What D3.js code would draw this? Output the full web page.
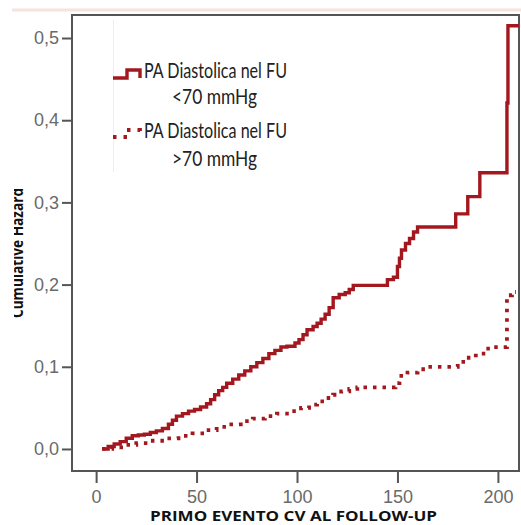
<!DOCTYPE html>
<html>
<head>
<meta charset="utf-8">
<script src="https://cdn.jsdelivr.net/npm/d3@7"></script>
<style>
  html, body { margin: 0; padding: 0; background: #fff; }
  svg { display: block; }
</style>
</head>
<body>
<svg id="chart" width="521" height="525"></svg>
<script>
// ---- data ----
const xTicks = [0, 50, 100, 150, 200];
const yTicks = [0, 0.1, 0.2, 0.3, 0.4, 0.5];
const seriesNames = ["PA Diastolica nel FU|<70 mmHg", "PA Diastolica nel FU|>70 mmHg"];
const xTitle = "PRIMO EVENTO CV AL FOLLOW-UP";
const yTitle = "Cumulative Hazard";

// <70 mmHg : step curve (time, cumulative hazard)
const lowTime = [3,6,9,12,15,18,21,24,27,30,33,36,38,40,43,46,49,52,55,57,59,61,63,65,68,71,74,77,80,83,86,89,92,95,99,101,103,105,108,110,112,114,116,118,121,124,126,128,145,148,150,151,152,154,156,158,160,179,185,191,204.5,205,210.5];
const lowHaz  = [0,0.003,0.006,0.009,0.013,0.016,0.017,0.018,0.020,0.022,0.025,0.030,0.035,0.040,0.043,0.046,0.048,0.051,0.055,0.060,0.066,0.071,0.075,0.080,0.085,0.090,0.095,0.100,0.105,0.110,0.116,0.120,0.124,0.125,0.129,0.133,0.139,0.145,0.149,0.153,0.158,0.164,0.172,0.184,0.188,0.190,0.194,0.199,0.206,0.209,0.222,0.232,0.242,0.250,0.256,0.264,0.270,0.286,0.307,0.336,0.421,0.515,0.515];

// >70 mmHg : step curve (time, cumulative hazard)
const highTime = [3,8,14,20,27,34,41,48,54,60,66,72,78,84,90,96,102,106,110,114,118,122,126,130,149,151,155,160,165,180,184,189,194,197,204.5,207,209];
const highHaz  = [0,0.002,0.005,0.007,0.010,0.013,0.016,0.019,0.023,0.027,0.030,0.034,0.037,0.040,0.043,0.046,0.050,0.054,0.058,0.062,0.066,0.070,0.073,0.075,0.080,0.089,0.093,0.097,0.100,0.106,0.111,0.116,0.122,0.124,0.187,0.191,0.191];

// ---- drawing ----
const svg = d3.select("#chart");
const red = "#a3181f";
const L = 72, R = 519, T = 15, B = 471;

const x = d3.scaleLinear().domain([-12, 210.5]).range([L, R]);
const y = d3.scaleLinear().domain([-0.0268, 0.528]).range([B, T]);

// faint decorations of the scanned figure
svg.append("line").attr("x1", 12).attr("x2", 521).attr("y1", 10).attr("y2", 10)
  .attr("stroke", "#f6e3df").attr("stroke-width", 3);
svg.append("line").attr("x1", 113.5).attr("x2", 113.5).attr("y1", 20).attr("y2", 172)
  .attr("stroke", "#eeeeee").attr("stroke-width", 1);

// axes
const fmt = v => d3.format(".1f")(v).replace(".", ",");
const yAxis = svg.append("g").attr("transform", `translate(${L},0)`)
  .call(d3.axisLeft(y).tickValues(yTicks).tickFormat(fmt).tickSize(10).tickSizeOuter(0).tickPadding(3));
const xAxis = svg.append("g").attr("transform", `translate(0,${B})`)
  .call(d3.axisBottom(x).tickValues(xTicks).tickFormat(d3.format("d")).tickSize(12).tickSizeOuter(0).tickPadding(7));
[yAxis, xAxis].forEach(g => {
  g.select(".domain").remove();
  g.selectAll(".tick line").attr("stroke", "#555").attr("stroke-width", 2);
  g.selectAll(".tick text").attr("fill", "#6a6a6a")
    .style("font-family", "'Liberation Sans', Arial, sans-serif").style("font-size", "18px");
});

// frame
svg.append("rect").attr("x", L).attr("y", T).attr("width", R - L).attr("height", B - T)
  .attr("fill", "none").attr("stroke", "#555").attr("stroke-width", 2);

// curves
const line = d3.line().x(d => x(d[0])).y(d => y(d[1])).curve(d3.curveStepAfter);
const lowData = lowTime.map((t, i) => [t, lowHaz[i]]);
const highData = highTime.map((t, i) => [t, highHaz[i]]);

svg.append("path").datum(highData).attr("d", line)
  .attr("fill", "none").attr("stroke", red).attr("stroke-width", 3.8)
  .attr("stroke-dasharray", "3.5 6");
svg.append("path").datum(lowData).attr("d", line)
  .attr("fill", "none").attr("stroke", red).attr("stroke-width", 3.4)
  .attr("stroke-linejoin", "miter");

// legend
const legendFont = "Lato, 'Open Sans', sans-serif";
const icon = (yLow, yHigh) => `M113,${yLow} H127 V${yHigh} H140 V${yLow}`;
svg.append("path").attr("d", icon(78, 70)).attr("fill", "none")
  .attr("stroke", red).attr("stroke-width", 3.4);
svg.append("path").attr("d", icon(137, 130)).attr("fill", "none")
  .attr("stroke", red).attr("stroke-width", 3.8).attr("stroke-dasharray", "3.5 7");

const legendRows = [
  { text: seriesNames[0].split("|")[0], x: 144, y: 78, w: 143 },
  { text: seriesNames[0].split("|")[1], x: 172, y: 104, w: 85 },
  { text: seriesNames[1].split("|")[0], x: 144, y: 138, w: 143 },
  { text: seriesNames[1].split("|")[1], x: 172, y: 166, w: 85 }
];
svg.selectAll("text.leg").data(legendRows).enter().append("text")
  .attr("class", "leg")
  .attr("x", d => d.x).attr("y", d => d.y)
  .attr("textLength", d => d.w).attr("lengthAdjust", "spacingAndGlyphs")
  .attr("fill", "#222").style("font-family", legendFont).style("font-size", "22px")
  .text(d => d.text);

// x title
svg.append("text").attr("x", 150).attr("y", 521)
  .attr("textLength", 287).attr("lengthAdjust", "spacingAndGlyphs")
  .attr("fill", "#111").style("font-family", "'Open Sans', sans-serif")
  .style("font-weight", "bold").style("font-size", "15px")
  .text(xTitle);

// y title (upper part of the glyphs clipped, as in the scan)
svg.append("clipPath").attr("id", "yclip").append("rect")
  .attr("x", 14).attr("y", 0).attr("width", 40).attr("height", 525);
svg.append("g").attr("clip-path", "url(#yclip)")
  .append("text")
  .attr("transform", "translate(23,318) rotate(-90)")
  .attr("x", 0).attr("y", 0)
  .attr("textLength", 130).attr("lengthAdjust", "spacingAndGlyphs")
  .attr("fill", "#111").style("font-family", "'Open Sans', sans-serif")
  .style("font-weight", "bold").style("font-size", "16px")
  .text(yTitle);
</script>
</body>
</html>
